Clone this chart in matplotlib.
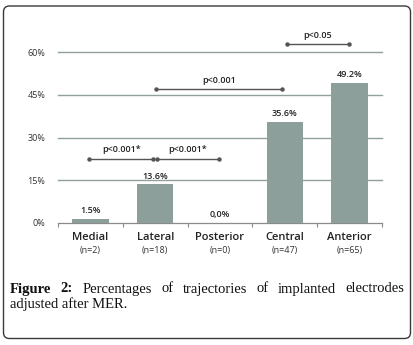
import matplotlib
matplotlib.use("Agg")
import matplotlib.pyplot as plt
import matplotlib.patches as mpatches
from matplotlib.transforms import IdentityTransform, blended_transform_factory

# bar data
categories = ["Medial", "Lateral", "Posterior", "Central", "Anterior"]
counts = ["(n=2)", "(n=18)", "(n=0)", "(n=47)", "(n=65)"]
percentages = [1.5, 13.6, 0.0, 35.6, 49.2]
value_labels = ["1.5%", "13.6%", "0,0%", "35.6%", "49.2%"]

# significance brackets: (from, to, height %, label)
brackets = [
    (-0.02, 0.97, 22.5, "p<0.001*"),
    (1.03, 1.98, 22.5, "p<0.001*"),
    (1.01, 2.96, 47.0, "p<0.001"),
    (3.03, 3.99, 62.8, "p<0.05"),
]
yticks = [0, 15, 30, 45, 60]

BAR = "#8c9f9b"
GRID = "#8fa19d"
SANS = "Open Sans"
SERIF = "Liberation Serif"

W, H = 414, 345
fig = plt.figure(figsize=(W / 100, H / 100), dpi=100)
ax = fig.add_axes([58 / W, 1 - 223 / H, 324 / W, 171 / H])

x = range(len(categories))
ax.bar(x, percentages, width=0.56, color=BAR, zorder=3)
ax.set_xlim(-0.5, len(categories) - 0.5)
ax.set_ylim(0, 60)

for s in ["top", "right", "left"]:
    ax.spines[s].set_visible(False)
ax.spines["bottom"].set_color("#8a8a8a")
ax.spines["bottom"].set_linewidth(0.9)

ax.set_yticks(yticks)
ax.set_yticklabels([f"{t}%" for t in yticks], fontsize=6.5, family=SANS, color="#333333")
ax.tick_params(axis="y", length=0, pad=9)
for t in yticks[1:]:
    ax.axhline(t, color=GRID, lw=1.0, zorder=1, clip_on=False)

# ticks between categories on the baseline
ax.set_xticks([i - 0.5 for i in range(len(categories) + 1)])
ax.set_xticklabels([])
ax.tick_params(axis="x", length=3, width=0.8, color="#8a8a8a", direction="out")

trans = blended_transform_factory(ax.transData, fig.transFigure)
for i, (name, n) in enumerate(zip(categories, counts)):
    ax.text(i, 1 - 237 / H, name, transform=trans, ha="center", va="center",
            fontsize=8, family=SANS, weight="semibold", color="#222222")
    ax.text(i, 1 - 250.5 / H, n, transform=trans, ha="center", va="center",
            fontsize=6.5, family=SANS, color="#333333")

for i, (v, lab) in enumerate(zip(percentages, value_labels)):
    ax.annotate(lab, (i, v), xytext=(0, 8), textcoords="offset pixels",
                ha="center", va="center", fontsize=6.5, family=SANS,
                weight="semibold", color="#222222")

for x0, x1, y, lab in brackets:
    ax.plot([x0, x1], [y, y], color="#555555", lw=1.0, marker="o",
            markersize=2.2, clip_on=False, zorder=4)
    ax.annotate(lab, ((x0 + x1) / 2, y), xytext=(0, 9), textcoords="offset pixels",
                ha="center", va="center", fontsize=6.5, family=SANS,
                weight="semibold", color="#222222", annotation_clip=False)

# caption, first line justified
line1 = [("Figure", "bold"), ("2:", "bold"), ("Percentages", "normal"), ("of", "normal"),
         ("trajectories", "normal"), ("of", "normal"), ("implanted", "normal"),
         ("electrodes", "normal")]
left, right = 10, 404
words = [fig.text(left / W, 1 - 292.5 / H, w, fontsize=10.5, family=SERIF, weight=wt,
                  va="baseline", ha="left", color="#111111") for w, wt in line1]
fig.text(left / W, 1 - 308 / H, "adjusted after MER.", fontsize=10.5, family=SERIF,
         va="baseline", ha="left", color="#111111")
fig.canvas.draw()
r = fig.canvas.get_renderer()
widths = [t.get_window_extent(r).width for t in words]
gap = (right - left - sum(widths)) / (len(words) - 1)
pos = left
for t, w in zip(words, widths):
    t.set_x(pos / W)
    pos += w + gap

# rounded frame around figure and caption
frame = mpatches.FancyBboxPatch((3.5, H - 338.5), 407, 332.5,
                                boxstyle="round,pad=0,rounding_size=6",
                                transform=IdentityTransform(), fill=False,
                                ec="#3a3a3a", lw=1.0)
fig.add_artist(frame)

fig.savefig("out.png", dpi=100)
